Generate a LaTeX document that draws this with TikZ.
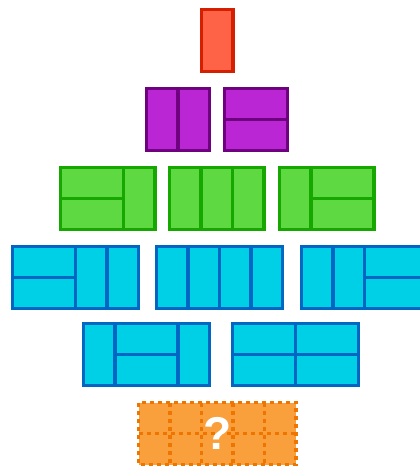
\documentclass[tikz,border=0pt]{standalone}
\usepackage{fontspec}
\setsansfont{Liberation Sans}
\definecolor{tileRed}{RGB}{255, 99, 71}
\definecolor{tileRedEdge}{RGB}{212, 32, 0}
\definecolor{tilePurple}{RGB}{187, 38, 212}
\definecolor{tilePurpleEdge}{RGB}{111, 0, 128}
\definecolor{tileGreen}{RGB}{95, 217, 65}
\definecolor{tileGreenEdge}{RGB}{22, 168, 0}
\definecolor{tileBlue}{RGB}{0, 208, 229}
\definecolor{tileBlueEdge}{RGB}{0, 102, 196}
\definecolor{tileOrange}{RGB}{249, 160, 60}
\definecolor{tileOrangeEdge}{RGB}{238, 118, 0}
\usepackage{tikz}

\begin{document}
\begin{tikzpicture}[
    x=1pt, y=-1pt,
    cell/.style={x=31.5pt, y=-31pt},
    redtile/.style={fill=tileRed, draw=tileRedEdge, line width=3.5pt},
    purpletile/.style={fill=tilePurple, draw=tilePurpleEdge, line width=3.5pt},
    greentile/.style={fill=tileGreen, draw=tileGreenEdge, line width=3.5pt},
    bluetile/.style={fill=tileBlue, draw=tileBlueEdge, line width=3.5pt},
    orangeline/.style={draw=tileOrangeEdge, line width=3.5pt, dash pattern=on 4pt off 4pt},
    qmark/.style={text=white, font=\sffamily\bfseries\fontsize{46}{46}\selectfont},
  ]
    \clip (0,0) rectangle (420,466);

    % length 1
    \begin{scope}[shift={(201.5pt,-9.5pt)}, cell]
      \draw[redtile] (0,0) rectangle (1,2);
    \end{scope}

    % length 2
    \begin{scope}[shift={(146.5pt,-88.5pt)}, cell]
      \foreach \k in {0,1} \draw[purpletile] (\k,0) rectangle +(1,2);
    \end{scope}
    \begin{scope}[shift={(224.5pt,-88.5pt)}, cell]
      \draw[purpletile] (0,0) rectangle (2,1);
      \draw[purpletile] (0,1) rectangle (2,2);
    \end{scope}

    % length 3
    \begin{scope}[shift={(60.5pt,-167.5pt)}, cell]
      \draw[greentile] (0,0) rectangle (2,1);
      \draw[greentile] (0,1) rectangle (2,2);
      \draw[greentile] (2,0) rectangle (3,2);
    \end{scope}
    \begin{scope}[shift={(169.5pt,-167.5pt)}, cell]
      \foreach \k in {0,1,2} \draw[greentile] (\k,0) rectangle +(1,2);
    \end{scope}
    \begin{scope}[shift={(279.5pt,-167.5pt)}, cell]
      \draw[greentile] (0,0) rectangle (1,2);
      \draw[greentile] (1,0) rectangle (3,1);
      \draw[greentile] (1,1) rectangle (3,2);
    \end{scope}

    % length 4
    \begin{scope}[shift={(12.5pt,-246.5pt)}, cell]
      \draw[bluetile] (0,0) rectangle (2,1);
      \draw[bluetile] (0,1) rectangle (2,2);
      \foreach \k in {2,3} \draw[bluetile] (\k,0) rectangle +(1,2);
    \end{scope}
    \begin{scope}[shift={(156.5pt,-246.5pt)}, cell]
      \foreach \k in {0,...,3} \draw[bluetile] (\k,0) rectangle +(1,2);
    \end{scope}
    \begin{scope}[shift={(301.5pt,-246.5pt)}, cell]
      \foreach \k in {0,1} \draw[bluetile] (\k,0) rectangle +(1,2);
      \draw[bluetile] (2,0) rectangle (4,1);
      \draw[bluetile] (2,1) rectangle (4,2);
    \end{scope}
    \begin{scope}[shift={(83.5pt,-323.5pt)}, cell]
      \draw[bluetile] (0,0) rectangle (1,2);
      \draw[bluetile] (1,0) rectangle (3,1);
      \draw[bluetile] (1,1) rectangle (3,2);
      \draw[bluetile] (3,0) rectangle (4,2);
    \end{scope}
    \begin{scope}[shift={(232.5pt,-323.5pt)}, cell]
      \foreach \k in {0,2} {
        \draw[bluetile] (\k,0) rectangle +(2,1);
        \draw[bluetile] (\k,1) rectangle +(2,1);
      }
    \end{scope}

    % length 5
    \begin{scope}[shift={(138.5pt,-402.5pt)}, cell]
      \fill[tileOrange] (0,0) rectangle (5,2);
      \foreach \k in {1,...,4} \draw[orangeline] (\k,0) -- (\k,2);
      \draw[orangeline] (0,1) -- (5,1);
      \draw[orangeline] (0,0) rectangle (5,2);
      \node[qmark] (ask) at (2.5,1) {?};
    \end{scope}
\end{tikzpicture}
\end{document}
